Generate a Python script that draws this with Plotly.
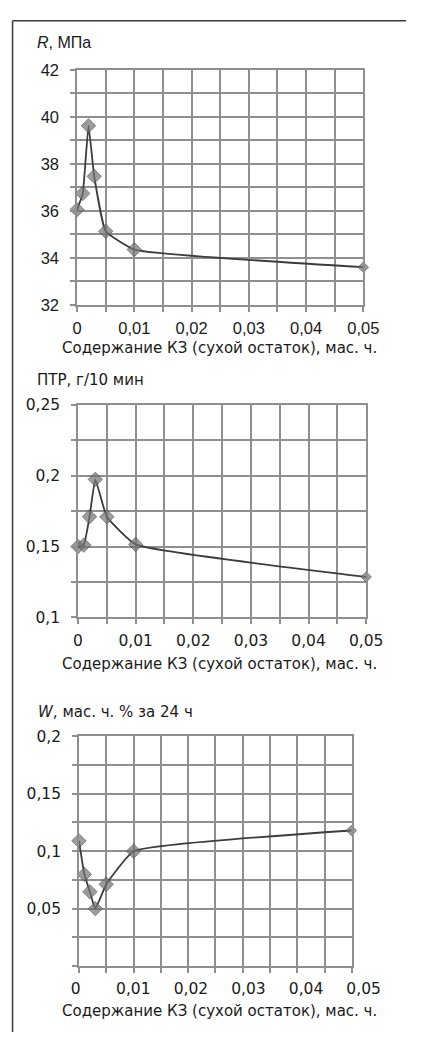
import plotly.graph_objects as go

W, H = 423, 1041

# ---- data ----
x_content = [0, 0.001, 0.002, 0.003, 0.005, 0.01, 0.05]
r_strength = [36.05, 36.74, 39.62, 37.47, 35.13, 34.35, 33.6]          # R, MPa
mfr = [0.150, 0.151, 0.171, 0.1975, 0.171, 0.1515, 0.1285]           # ПТР, г/10 мин
x_water = [0, 0.001, 0.002, 0.003, 0.005, 0.01, 0.0499]
water = [0.109, 0.0798, 0.0647, 0.050, 0.0712, 0.100, 0.118]         # W

x_ticks = [0, 0.01, 0.02, 0.03, 0.04, 0.05]
x_tick_text = ["0", "0,01", "0,02", "0,03", "0,04", "0,05"]
r_ticks = [32, 34, 36, 38, 40, 42]
mfr_ticks = [0.1, 0.15, 0.2, 0.25]
mfr_tick_text = ["0,1", "0,15", "0,2", "0,25"]
w_ticks = [0.05, 0.1, 0.15, 0.2]
w_tick_text = ["0,05", "0,1", "0,15", "0,2"]

x_title = "Содержание КЗ (сухой остаток), мас. ч."
titles = ["<i>R</i>, МПа", "ПТР, г/10 мин", "<i>W</i>, мас. ч. % за 24 ч"]

# ---- styles ----
GRID = "#8f8f8f"
LINE = "#3c3c3c"
TXT = "#1a1a1a"
ARIAL = "Liberation Sans, Arial, sans-serif"
VERD = "DejaVu Sans, Verdana, sans-serif"

def px(x):
    return x / W

def py(y):
    return 1 - y / H

fig = go.Figure()

panels = [
    dict(x=x_content, y=r_strength, xd=(76, 378), yd=(62, 301), yr=[32, 42], ymd=1,
         yt=r_ticks, ytt=[str(v) for v in r_ticks], tickfont=ARIAL, tfs=16.5,
         title_xy=(32, 34), xtitle_y=345, msize=[11, 11, 11, 11, 11, 11, 8]),
    dict(x=x_content, y=mfr, xd=(77, 381), yd=(403, 619), yr=[0.1, 0.25], ymd=0.025,
         yt=mfr_ticks, ytt=mfr_tick_text, tickfont=VERD, tfs=15.5,
         title_xy=(32, 378), xtitle_y=667, msize=[11, 11, 11, 11, 11, 11, 8]),
    dict(x=x_water, y=water, xd=(78, 366), yd=(740, 974), yr=[0, 0.2], ymd=0.025,
         yt=w_ticks, ytt=w_tick_text, tickfont=VERD, tfs=15.5,
         title_xy=(33, 715), xtitle_y=1020, msize=[11, 11, 11, 11, 11, 11, 8]),
]

layout = dict(width=W, height=H, autosize=False, margin=dict(l=0, r=0, t=0, b=0),
              paper_bgcolor="white", plot_bgcolor="rgba(0,0,0,0)", showlegend=False,
              separators=", ")
annotations = []
for i, p in enumerate(panels, start=1):
    xa = "x" if i == 1 else f"x{i}"
    ya = "y" if i == 1 else f"y{i}"
    fig.add_trace(go.Scatter(
        x=p["x"], y=p["y"], xaxis=xa, yaxis=ya, mode="lines+markers",
        line=dict(color=LINE, width=1.8, shape="spline", smoothing=0.35),
        marker=dict(symbol="diamond", size=p["msize"], color="#737373",
                    line=dict(color="#4a4a4a", width=1)),
        cliponaxis=False,
    ))
    common = dict(showgrid=True, gridcolor=GRID, gridwidth=1.5,
                  showline=True, linecolor=GRID, linewidth=1.5, mirror=True,
                  ticks="outside", ticklen=5, tickcolor=GRID, tickwidth=1.5,
                  zeroline=False, fixedrange=True)
    layout["xaxis" if i == 1 else f"xaxis{i}"] = dict(
        common, domain=[px(p["xd"][0]), px(p["xd"][1])], range=[0, 0.05],
        anchor=ya, tickvals=x_ticks, ticktext=x_tick_text,
        showticklabels=(i != 3), ticklabelstandoff=3,
        tickfont=dict(family=p["tickfont"], size=p["tfs"], color=TXT),
        minor=dict(dtick=0.005, tick0=0, showgrid=True, gridcolor=GRID, gridwidth=1.5,
                   ticks="outside", ticklen=5, tickcolor=GRID, tickwidth=1.5),
    )
    layout["yaxis" if i == 1 else f"yaxis{i}"] = dict(
        common, domain=[py(p["yd"][1]), py(p["yd"][0])], range=p["yr"],
        anchor=xa, tickvals=p["yt"], ticktext=p["ytt"],
        tickfont=dict(family=p["tickfont"], size=p["tfs"], color=TXT),
        ticklabelstandoff=8,
        minor=dict(dtick=p["ymd"], tick0=p["yr"][0], showgrid=True, gridcolor=GRID, gridwidth=1.5,
                   ticks="outside", ticklen=5, tickcolor=GRID, tickwidth=1.5),
    )
    annotations.append(dict(
        text=titles[i - 1], xref="paper", yref="paper",
        x=px(p["title_xy"][0]), y=py(p["title_xy"][1]), xanchor="left", yanchor="middle",
        showarrow=False, font=dict(family=ARIAL if i == 1 else VERD,
                                   size=16 if i == 1 else 15, color=TXT),
    ))
    annotations.append(dict(
        text=x_title, xref="paper", yref="paper",
        x=px(395), y=py(p["xtitle_y"]), xanchor="right", yanchor="middle",
        showarrow=False, font=dict(family=VERD, size=15, color=TXT),
    ))

# bottom panel: its tick labels are spread slightly wider than the grid in the original,
# so they come from a separate label-only axis pair
layout["xaxis4"] = dict(
    domain=[px(74.6), px(378.3)], range=[0, 0.05], anchor="y4",
    tickvals=x_ticks, ticktext=x_tick_text, showgrid=False, showline=False,
    zeroline=False, ticks="outside", ticklen=5, tickcolor="rgba(0,0,0,0)",
    ticklabelstandoff=3, fixedrange=True,
    tickfont=dict(family=VERD, size=15.5, color=TXT),
)
layout["yaxis4"] = dict(domain=[py(974), py(740)], range=[0, 1], anchor="x4",
                        visible=False, showgrid=False, fixedrange=True)
fig.add_trace(go.Scatter(x=[None], y=[None], xaxis="x4", yaxis="y4",
                         showlegend=False, hoverinfo="skip"))

layout["annotations"] = annotations
layout["shapes"] = [
    dict(type="line", xref="paper", yref="paper", x0=px(8), x1=1, y0=py(12), y1=py(12),
         line=dict(color="#3a3a3a", width=1.5)),
    dict(type="line", xref="paper", yref="paper", x0=px(8), x1=px(8), y0=py(12), y1=0,
         line=dict(color="#3a3a3a", width=1.5)),
]
fig.update_layout(**layout)
fig.write_html("out.html", config={"responsive": False})
